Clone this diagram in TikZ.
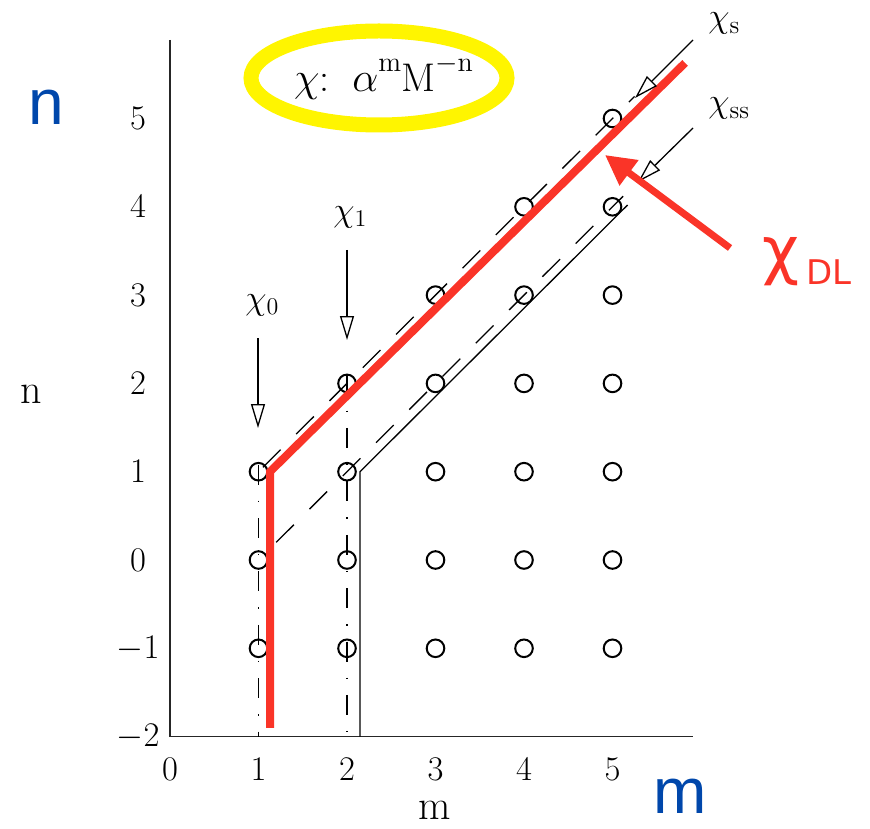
\documentclass[tikz,border=0pt]{standalone}
\usepackage{fontspec}
\newfontfamily\dejavu{DejaVu Sans}
\newfontfamily\libsans{Liberation Sans}
\usetikzlibrary{arrows.meta}
\definecolor{dlred}{RGB}{250,52,40}
\definecolor{lblblue}{RGB}{0,71,171}
\definecolor{hiyellow}{RGB}{255,245,0}
\newcommand{\supx}[1]{\raisebox{10pt}{\fontsize{14}{16}\selectfont #1}}
\begin{document}
\begin{tikzpicture}[x=0.5pt,y=-0.5pt,
  ticklbl/.style={font=\fontsize{18}{20}\selectfont, inner sep=0pt},
  axlbl/.style={font=\fontsize{21}{23}\selectfont, inner sep=0pt},
  chilbl/.style={font=\fontsize{18}{20}\selectfont, inner sep=0pt, anchor=base west},
  bluelbl/.style={font=\libsans\fontsize{32}{34}\selectfont, text=lblblue, inner sep=0pt, anchor=base},
  gridpt/.style={circle, draw, line width=1pt, minimum size=8.8pt, inner sep=0pt},
  axisline/.style={line width=0.8pt, black!85},
  dashdotline/.style={line width=0.7pt, dash pattern=on 10pt off 8pt on 0.7pt off 8pt},
  dashline/.style={line width=0.65pt, dash pattern=on 12.5pt off 11pt},
  solidline/.style={line width=0.65pt},
  redline/.style={dlred, line width=4pt, line join=miter},
  chiarrow/.style={line width=0.65pt, -{Triangle[open, length=12pt, width=7pt]}},
  dlarrow/.style={dlred, line width=3.5pt, -{Triangle[length=15pt, width=15pt]}}
]
\useasboundingbox (0,0) rectangle (870,828);

% highlighted formula
\draw[hiyellow, line width=7.5pt] (379,78) ellipse [x radius=64pt, y radius=23.5pt];
\node[anchor=base, inner sep=0pt, font=\fontsize{20}{22}\selectfont] (formula) at (383.5,92)
  {$\chi$:\, $\alpha$\supx{m}M\supx{$-$n}};

% data coordinates: m along x, n along y
\begin{scope}[shift={(85pt,-280pt)}, x=44.25pt, y=44.15pt]
  \coordinate (axtop) at (0,5.89);
  \coordinate (axorig) at (0,-2);
  \coordinate (axright) at (5.91,-2);
  \draw[axisline] (axtop) -- (axorig) -- (axright);

  % dash-dot verticals
  \coordinate (dda) at (1,1.08);
  \coordinate (ddab) at (1,-2);
  \coordinate (ddb) at (2,2.1);
  \coordinate (ddbb) at (2,-2);
  \draw[dashdotline] (dda) -- (ddab);
  \draw[dashdotline] (ddb) -- (ddbb);

  % solid chi_ss line
  \coordinate (ssbot) at (2.147,-2);
  \coordinate (sscorner) at (2.147,1);
  \coordinate (sstop) at (5.17,4.02);
  \draw[solidline] (ssbot) -- (sscorner) -- (sstop);

  % dashed lines
  \coordinate (dua) at (1.05,1.05);
  \coordinate (dub) at (5.25,5.25);
  \draw[dashline] (dua) -- (dub);
  \coordinate (dla) at (1.2,0.2);
  \coordinate (dlb) at (5.12,4.12);
  \draw[dashline] (dla) -- (dlb);

  % grid points
  \foreach \m in {1,...,5}
    \foreach \n in {-1,...,\m}
      \node[gridpt] (c\m n\n) at (\m,\n) {};

  % red chi_DL line
  \coordinate (rbot) at (1.13,-1.9);
  \coordinate (rcorner) at (1.13,1);
  \coordinate (rtop) at (5.82,5.63);
  \draw[redline] (rbot) -- (rcorner) -- (rtop);

  % tick labels
  \foreach \n in {-2,...,5}
    \node[ticklbl] (yt\n) at (-0.36,\n) {$\n$};
  \foreach \m in {0,...,5}
    \node[ticklbl] (xt\m) at (\m,-2.37) {$\m$};
\end{scope}

% axis labels
\node[axlbl, anchor=base] (nlab) at (31,403) {n};
\node[axlbl] (mlab) at (435,810) {m};
\node[bluelbl] (nblue) at (46,125) {n};
\node[bluelbl] (mblue) at (680,813) {m};

% chi labels and arrows
\node[chilbl] (chi0) at (245,309) {$\chi_0$};
\coordinate (a0s) at (258,338);
\coordinate (a0e) at (258,428);
\draw[chiarrow] (a0s) -- (a0e);

\node[chilbl] (chi1) at (333,221) {$\chi_1$};
\coordinate (a1s) at (347,250);
\coordinate (a1e) at (347,340);
\draw[chiarrow] (a1s) -- (a1e);

\node[chilbl] (chis) at (708,28) {$\chi_{\mathrm{s}}$};
\coordinate (ass) at (693,40);
\coordinate (ase) at (635,98);
\draw[chiarrow] (ass) -- (ase);

\node[chilbl] (chiss) at (708,113) {$\chi_{\mathrm{ss}}$};
\coordinate (asss) at (693,128);
\coordinate (asse) at (638,182);
\draw[chiarrow] (asss) -- (asse);

% chi_DL label and arrow
\node[anchor=base, inner sep=0pt, text=dlred, font=\dejavu\fontsize{32}{34}\selectfont] (dlchi) at (781,272) {χ};
\node[anchor=base west, inner sep=0pt, text=dlred, font=\dejavu\fontsize{17}{19}\selectfont] (dlsub) at (806,285) {DL};
\coordinate (dls) at (730,248);
\coordinate (dle) at (605,155);
\draw[dlarrow] (dls) -- (dle);
\end{tikzpicture}
\end{document}
